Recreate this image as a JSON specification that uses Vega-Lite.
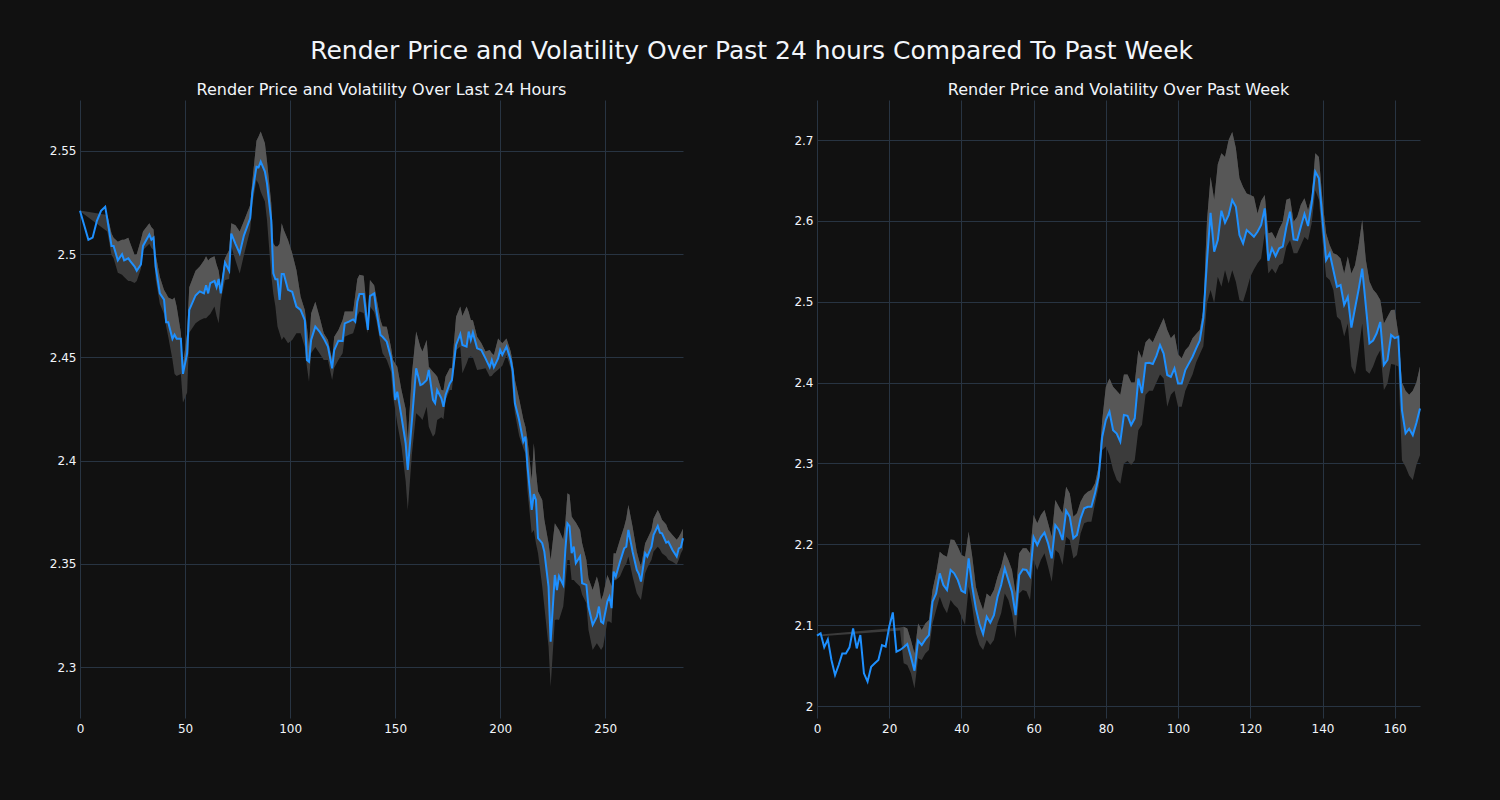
{
"$schema": "https://vega.github.io/schema/vega-lite/v6.json",
"background": "#111111",
"autosize": {"type": "pad"},
"padding": {"left": 49, "top": 39, "right": 80, "bottom": 66},
"title": {"text": "Render Price and Volatility Over Past 24 hours Compared To Past Week", "fontSize": 25, "font": "DejaVu Sans", "fontWeight": "normal", "color": "#f2f5fa", "anchor": "middle", "offset": 18, "dx": 15},
"datasets": {
"day": [
{"x":0,"p":2.521,"u":2.5212,"l":2.5208},
{"x":2,"p":2.514},{"x":4,"p":2.507},{"x":6,"p":2.508},{"x":8,"p":2.516},{"x":10,"p":2.521},{"x":12,"p":2.523},
{"x":13,"p":2.517,"u":2.519,"l":2.511},
{"x":15,"p":2.504,"u":2.510,"l":2.4996},
{"x":16,"p":2.504,"u":2.508,"l":2.498},
{"x":18,"p":2.497,"u":2.506,"l":2.491},
{"x":20,"p":2.500,"u":2.507,"l":2.490},
{"x":21,"p":2.497,"u":2.507,"l":2.489},
{"x":23,"p":2.498,"u":2.508,"l":2.487},
{"x":24,"p":2.4965,"u":2.505,"l":2.487},
{"x":26,"p":2.494,"u":2.4996,"l":2.486},
{"x":27,"p":2.492,"u":2.500,"l":2.487},
{"x":29,"p":2.495,"u":2.507,"l":2.493},
{"x":30,"p":2.504,"u":2.511,"l":2.502},
{"x":33,"p":2.5095,"u":2.515,"l":2.505},
{"x":34,"p":2.507,"u":2.513,"l":2.503},
{"x":35,"p":2.508,"u":2.512,"l":2.502},
{"x":36,"p":2.494,"u":2.500,"l":2.488},
{"x":38,"p":2.481,"u":2.489,"l":2.476},
{"x":40,"p":2.478,"u":2.4827,"l":2.471},
{"x":41,"p":2.467,"u":2.481,"l":2.465},
{"x":42,"p":2.467,"u":2.479,"l":2.460},
{"x":44,"p":2.459,"u":2.478,"l":2.449},
{"x":45,"p":2.461,"u":2.479,"l":2.442},
{"x":46,"p":2.459,"u":2.4746,"l":2.441},
{"x":48,"p":2.459,"u":2.462,"l":2.442},
{"x":49,"p":2.442,"u":2.446,"l":2.428},
{"x":51,"p":2.452,"u":2.462,"l":2.433},
{"x":52,"p":2.473,"u":2.484,"l":2.462},
{"x":55,"p":2.480,"u":2.492,"l":2.4665},
{"x":57,"p":2.482,"u":2.494,"l":2.468},
{"x":59,"p":2.481,"u":2.497,"l":2.469},
{"x":60,"p":2.485,"u":2.499,"l":2.469},
{"x":61,"p":2.481,"u":2.497,"l":2.470},
{"x":62,"p":2.486,"u":2.498,"l":2.471},
{"x":64,"p":2.487,"u":2.499,"l":2.4746},
{"x":65,"p":2.484,"u":2.495,"l":2.470},
{"x":66,"p":2.488,"u":2.492,"l":2.4665},
{"x":67,"p":2.481,"u":2.4843,"l":2.4775},
{"x":69,"p":2.496,"u":2.498,"l":2.4875},
{"x":71,"p":2.492,"u":2.502,"l":2.488},
{"x":72,"p":2.510,"u":2.515,"l":2.5037},
{"x":74,"p":2.505,"u":2.514,"l":2.497},
{"x":76,"p":2.5004,"u":2.511,"l":2.4907},
{"x":78,"p":2.509,"u":2.516,"l":2.4995},
{"x":81,"p":2.5174,"u":2.5238,"l":2.5117},
{"x":82,"p":2.5295,"u":2.535,"l":2.524},
{"x":84,"p":2.5424,"u":2.555,"l":2.536},
{"x":85,"p":2.5421,"u":2.557,"l":2.534},
{"x":86,"p":2.5448,"u":2.5594,"l":2.5303},
{"x":88,"p":2.540,"u":2.5537,"l":2.5255},
{"x":89,"p":2.5343,"u":2.545,"l":2.5166},
{"x":91,"p":2.5166,"u":2.525,"l":2.49},
{"x":92,"p":2.4907,"u":2.5053,"l":2.481},
{"x":93,"p":2.4878,"u":2.5037,"l":2.4746},
{"x":94,"p":2.4878,"u":2.5037,"l":2.465},
{"x":95,"p":2.4778,"u":2.505,"l":2.4617},
{"x":96,"p":2.4904,"u":2.515,"l":2.4584},
{"x":97,"p":2.4904,"u":2.5117,"l":2.46},
{"x":99,"p":2.4827,"u":2.5069,"l":2.4568},
{"x":101,"p":2.4818,"u":2.5004,"l":2.4584},
{"x":103,"p":2.4746,"u":2.4923,"l":2.4617},
{"x":105,"p":2.473,"u":2.4794,"l":2.4617},
{"x":107,"p":2.468,"u":2.473,"l":2.455},
{"x":108,"p":2.4487,"u":2.4649,"l":2.4455},
{"x":109,"p":2.4479,"u":2.4552,"l":2.4382},
{"x":110,"p":2.4584,"u":2.4713,"l":2.452},
{"x":112,"p":2.4649,"u":2.477,"l":2.455},
{"x":114,"p":2.4625,"u":2.4697,"l":2.452},
{"x":116,"p":2.4592,"u":2.4617,"l":2.4487},
{"x":118,"p":2.4552,"u":2.4584,"l":2.4487},
{"x":120,"p":2.4447,"u":2.4487,"l":2.439},
{"x":121,"p":2.4536,"u":2.46,"l":2.445},
{"x":123,"p":2.4581,"u":2.4633,"l":2.4487},
{"x":125,"p":2.458,"u":2.4681,"l":2.452},
{"x":126,"p":2.4665,"u":2.4722,"l":2.46},
{"x":128,"p":2.4673,"u":2.4722,"l":2.461},
{"x":130,"p":2.4684,"u":2.4722,"l":2.4617},
{"x":131,"p":2.4673,"u":2.48,"l":2.465},
{"x":132,"p":2.477,"u":2.488,"l":2.47},
{"x":133,"p":2.4807,"u":2.49,"l":2.4722},
{"x":135,"p":2.4807,"u":2.4895,"l":2.4715},
{"x":137,"p":2.4633,"u":2.4681,"l":2.4617},
{"x":138,"p":2.4797,"u":2.4875,"l":2.4746},
{"x":140,"p":2.481,"u":2.485,"l":2.472},
{"x":141,"p":2.473,"u":2.4794,"l":2.4681},
{"x":143,"p":2.4609,"u":2.4681,"l":2.4568},
{"x":144,"p":2.46,"u":2.465,"l":2.452},
{"x":146,"p":2.4576,"u":2.4649,"l":2.4487},
{"x":148,"p":2.450,"u":2.455,"l":2.443},
{"x":149,"p":2.4423,"u":2.4487,"l":2.431},
{"x":150,"p":2.4294,"u":2.447,"l":2.425},
{"x":151,"p":2.4334,"u":2.4455,"l":2.418},
{"x":153,"p":2.4213,"u":2.4342,"l":2.4068},
{"x":155,"p":2.4084,"u":2.425,"l":2.39},
{"x":156,"p":2.3955,"u":2.41,"l":2.376},
{"x":158,"p":2.4197,"u":2.4423,"l":2.4035},
{"x":160,"p":2.4447,"u":2.4625,"l":2.4229},
{"x":162,"p":2.4366,"u":2.455,"l":2.421},
{"x":163,"p":2.437,"u":2.4528,"l":2.4197},
{"x":165,"p":2.439,"u":2.4584,"l":2.4261},
{"x":166,"p":2.4439,"u":2.4455,"l":2.4164},
{"x":168,"p":2.4294,"u":2.4431,"l":2.4116},
{"x":169,"p":2.4278,"u":2.442,"l":2.413},
{"x":170,"p":2.4342,"u":2.4407,"l":2.4197},
{"x":172,"p":2.4302,"u":2.4342,"l":2.421},
{"x":173,"p":2.4261,"u":2.434,"l":2.42},
{"x":174,"p":2.4318,"u":2.4407,"l":2.4294},
{"x":176,"p":2.4374,"u":2.4447,"l":2.4342},
{"x":177,"p":2.439,"u":2.4447,"l":2.4342},
{"x":179,"p":2.456,"u":2.4697,"l":2.4536},
{"x":181,"p":2.4613,"u":2.4746,"l":2.4552},
{"x":182,"p":2.456,"u":2.47,"l":2.4423},
{"x":184,"p":2.4552,"u":2.4746,"l":2.4471},
{"x":185,"p":2.4625,"u":2.472,"l":2.45},
{"x":186,"p":2.4584,"u":2.4681,"l":2.4504},
{"x":187,"p":2.462,"u":2.468,"l":2.45},
{"x":189,"p":2.4544,"u":2.46,"l":2.4439},
{"x":191,"p":2.4536,"u":2.457,"l":2.4443},
{"x":193,"p":2.4495,"u":2.4528,"l":2.4447},
{"x":195,"p":2.4452,"u":2.4536,"l":2.4407},
{"x":196,"p":2.4487,"u":2.452,"l":2.441},
{"x":197,"p":2.4452,"u":2.4512,"l":2.4423},
{"x":199,"p":2.4495,"u":2.4592,"l":2.444},
{"x":200,"p":2.4536,"u":2.458,"l":2.445},
{"x":201,"p":2.4512,"u":2.4568,"l":2.446},
{"x":203,"p":2.4552,"u":2.4592,"l":2.4512},
{"x":205,"p":2.4487,"u":2.4528,"l":2.4447},
{"x":206,"p":2.4431,"u":2.447,"l":2.433},
{"x":207,"p":2.4278,"u":2.439,"l":2.4229},
{"x":209,"p":2.4197,"u":2.43,"l":2.412},
{"x":211,"p":2.4092,"u":2.42,"l":2.406},
{"x":212,"p":2.4116,"u":2.4164,"l":2.4035},
{"x":213,"p":2.3971,"u":2.41,"l":2.385},
{"x":215,"p":2.3761,"u":2.3906,"l":2.3648},
{"x":216,"p":2.3838,"u":2.4084,"l":2.3664},
{"x":217,"p":2.3809,"u":2.395,"l":2.36},
{"x":218,"p":2.3624,"u":2.385,"l":2.3551},
{"x":220,"p":2.36,"u":2.3809,"l":2.339},
{"x":221,"p":2.3559,"u":2.3713,"l":2.3293},
{"x":223,"p":2.339,"u":2.36,"l":2.31},
{"x":224,"p":2.3123,"u":2.3519,"l":2.2905},
{"x":226,"p":2.3446,"u":2.3697,"l":2.3228},
{"x":227,"p":2.3373,"u":2.368,"l":2.323},
{"x":228,"p":2.344,"u":2.3664,"l":2.3228},
{"x":230,"p":2.3398,"u":2.3616,"l":2.3293},
{"x":231,"p":2.3567,"u":2.37,"l":2.34},
{"x":232,"p":2.3696,"u":2.3842,"l":2.3519},
{"x":233,"p":2.3683,"u":2.3834,"l":2.3519},
{"x":234,"p":2.3551,"u":2.3729,"l":2.3422},
{"x":235,"p":2.3583,"u":2.3713,"l":2.3422},
{"x":236,"p":2.3503,"u":2.37,"l":2.341},
{"x":238,"p":2.3535,"u":2.3664,"l":2.339},
{"x":239,"p":2.3406,"u":2.36,"l":2.335},
{"x":241,"p":2.3398,"u":2.3519,"l":2.3309},
{"x":242,"p":2.3293,"u":2.343,"l":2.318},
{"x":244,"p":2.3204,"u":2.3373,"l":2.3083},
{"x":246,"p":2.3244,"u":2.3438,"l":2.3115},
{"x":247,"p":2.3293,"u":2.34,"l":2.31},
{"x":248,"p":2.322,"u":2.3325,"l":2.3083},
{"x":249,"p":2.3212,"u":2.335,"l":2.31},
{"x":251,"p":2.3317,"u":2.3446,"l":2.322},
{"x":252,"p":2.3341,"u":2.342,"l":2.322},
{"x":253,"p":2.3285,"u":2.339,"l":2.3212},
{"x":254,"p":2.3462,"u":2.3551,"l":2.3422},
{"x":255,"p":2.3438,"u":2.355,"l":2.342},
{"x":257,"p":2.351,"u":2.3616,"l":2.3438},
{"x":259,"p":2.3575,"u":2.368,"l":2.3486},
{"x":260,"p":2.3583,"u":2.372,"l":2.35},
{"x":261,"p":2.3664,"u":2.3785,"l":2.3535},
{"x":263,"p":2.3559,"u":2.368,"l":2.3438},
{"x":265,"p":2.347,"u":2.3559,"l":2.3357},
{"x":266,"p":2.3451,"u":2.352,"l":2.334},
{"x":267,"p":2.3414,"u":2.3486,"l":2.3325},
{"x":269,"p":2.3551,"u":2.36,"l":2.3454},
{"x":270,"p":2.3535,"u":2.362,"l":2.348},
{"x":272,"p":2.3583,"u":2.3664,"l":2.352},
{"x":273,"p":2.364,"u":2.372,"l":2.356},
{"x":275,"p":2.3683,"u":2.3761,"l":2.3583},
{"x":276,"p":2.3651,"u":2.374,"l":2.357},
{"x":277,"p":2.3648,"u":2.3713,"l":2.3551},
{"x":279,"p":2.3603,"u":2.369,"l":2.3535},
{"x":280,"p":2.3608,"u":2.3664,"l":2.352},
{"x":282,"p":2.3567,"u":2.364,"l":2.351},
{"x":284,"p":2.3535,"u":2.3616,"l":2.3495},
{"x":285,"p":2.3575,"u":2.363,"l":2.352},
{"x":286,"p":2.358,"u":2.3648,"l":2.3551},
{"x":287,"p":2.3624,"u":2.367,"l":2.357}
],
"week": [
{"x":0,"p":2.087},
{"x":1,"p":2.0899,"u":2.0885,"l":2.0862},
{"x":2,"p":2.0726},{"x":3,"p":2.0824},{"x":4,"p":2.0569},{"x":5,"p":2.0383},{"x":6,"p":2.0507},{"x":7,"p":2.0651},{"x":8,"p":2.0651},{"x":9,"p":2.0726},{"x":10,"p":2.096},{"x":11,"p":2.0713},{"x":12,"p":2.0878},{"x":13,"p":2.0404},{"x":14,"p":2.0301},{"x":15,"p":2.0486},{"x":16,"p":2.0528},{"x":17,"p":2.0569},{"x":18,"p":2.0754},{"x":19,"p":2.0734},{"x":20,"p":2.0981},{"x":21,"p":2.1158},{"x":22,"p":2.0672},
{"x":23,"p":2.0693,"u":2.0972,"l":2.0935},
{"x":24,"p":2.0726,"u":2.0981,"l":2.0528},
{"x":25,"p":2.0767,"u":2.096,"l":2.0507},
{"x":26,"p":2.061,"u":2.0816,"l":2.0404},
{"x":27,"p":2.0437,"u":2.0651,"l":2.0218},
{"x":28,"p":2.0808,"u":2.1022,"l":2.059},
{"x":29,"p":2.0754,"u":2.094,"l":2.0569},
{"x":30,"p":2.0824,"u":2.1022,"l":2.0651},
{"x":31,"p":2.0878,"u":2.1064,"l":2.0693},
{"x":32,"p":2.129,"u":2.1435,"l":2.1022},
{"x":33,"p":2.1393,"u":2.1641,"l":2.1187},
{"x":34,"p":2.1641,"u":2.1909,"l":2.1352},
{"x":35,"p":2.1496,"u":2.1867,"l":2.1228},
{"x":36,"p":2.1435,"u":2.1847,"l":2.1146},
{"x":37,"p":2.1682,"u":2.2061,"l":2.1311},
{"x":38,"p":2.1641,"u":2.2053,"l":2.1249},
{"x":39,"p":2.1558,"u":2.197,"l":2.1208},
{"x":40,"p":2.1426,"u":2.1867,"l":2.1105},
{"x":41,"p":2.1402,"u":2.1847,"l":2.1002},
{"x":42,"p":2.1826,"u":2.2156,"l":2.1476},
{"x":43,"p":2.1476,"u":2.1847,"l":2.1228},
{"x":44,"p":2.1208,"u":2.1476,"l":2.0899},
{"x":45,"p":2.1014,"u":2.1311,"l":2.0754},
{"x":46,"p":2.089,"u":2.1187,"l":2.0693},
{"x":47,"p":2.1105,"u":2.1393,"l":2.0816},
{"x":48,"p":2.1031,"u":2.1352,"l":2.0754},
{"x":49,"p":2.1125,"u":2.1435,"l":2.0816},
{"x":50,"p":2.1352,"u":2.16,"l":2.1022},
{"x":51,"p":2.1496,"u":2.1723,"l":2.1146},
{"x":52,"p":2.1703,"u":2.1909,"l":2.1393},
{"x":53,"p":2.1558,"u":2.1806,"l":2.1311},
{"x":54,"p":2.1414,"u":2.1682,"l":2.1146},
{"x":55,"p":2.1125,"u":2.1393,"l":2.0837},
{"x":56,"p":2.162,"u":2.1888,"l":2.1393},
{"x":57,"p":2.169,"u":2.195,"l":2.1435},
{"x":58,"p":2.1682,"u":2.195,"l":2.142},
{"x":59,"p":2.1608,"u":2.1888,"l":2.1311},
{"x":60,"p":2.2086,"u":2.2362,"l":2.1806},
{"x":61,"p":2.1991,"u":2.2259,"l":2.1682},
{"x":62,"p":2.2086,"u":2.2362,"l":2.1806},
{"x":63,"p":2.2144,"u":2.2424,"l":2.1888},
{"x":64,"p":2.2012,"u":2.2259,"l":2.1723},
{"x":65,"p":2.1826,"u":2.2094,"l":2.1538},
{"x":66,"p":2.2238,"u":2.2548,"l":2.1929},
{"x":67,"p":2.2177,"u":2.2465,"l":2.1888},
{"x":68,"p":2.2053,"u":2.2383,"l":2.1744},
{"x":69,"p":2.2416,"u":2.2713,"l":2.2094},
{"x":70,"p":2.2342,"u":2.263,"l":2.2053},
{"x":71,"p":2.2074,"u":2.2342,"l":2.1826},
{"x":72,"p":2.2115,"u":2.2383,"l":2.1867},
{"x":73,"p":2.2321,"u":2.2527,"l":2.2135},
{"x":74,"p":2.2445,"u":2.2609,"l":2.2259},
{"x":75,"p":2.2465,"u":2.2651,"l":2.228},
{"x":76,"p":2.2465,"u":2.2671,"l":2.228},
{"x":77,"p":2.263,"u":2.2754,"l":2.2506},
{"x":78,"p":2.2836,"u":2.296,"l":2.2713},
{"x":79,"p":2.3331,"u":2.3537,"l":2.3166},
{"x":80,"p":2.3537,"u":2.395,"l":2.321},
{"x":81,"p":2.364,"u":2.405,"l":2.31},
{"x":82,"p":2.341,"u":2.395,"l":2.292},
{"x":83,"p":2.337,"u":2.39,"l":2.28},
{"x":84,"p":2.327,"u":2.385,"l":2.275},
{"x":85,"p":2.36,"u":2.41,"l":2.30},
{"x":86,"p":2.359,"u":2.41,"l":2.303},
{"x":87,"p":2.3475,"u":2.40,"l":2.298},
{"x":88,"p":2.3558,"u":2.40,"l":2.304},
{"x":89,"p":2.405,"u":2.44,"l":2.341},
{"x":90,"p":2.387,"u":2.43,"l":2.348},
{"x":91,"p":2.424,"u":2.45,"l":2.385},
{"x":92,"p":2.4246,"u":2.455,"l":2.39},
{"x":93,"p":2.423,"u":2.45,"l":2.39},
{"x":94,"p":2.433,"u":2.46,"l":2.40},
{"x":95,"p":2.4465,"u":2.47,"l":2.41},
{"x":96,"p":2.436,"u":2.48,"l":2.405},
{"x":97,"p":2.4094,"u":2.465,"l":2.37},
{"x":98,"p":2.407,"u":2.455,"l":2.385},
{"x":99,"p":2.4176,"u":2.46,"l":2.39},
{"x":100,"p":2.399,"u":2.435,"l":2.37},
{"x":101,"p":2.399,"u":2.43,"l":2.37},
{"x":102,"p":2.4155,"u":2.44,"l":2.39},
{"x":103,"p":2.4238,"u":2.445,"l":2.40},
{"x":104,"p":2.432,"u":2.455,"l":2.41},
{"x":105,"p":2.4423,"u":2.46,"l":2.425},
{"x":106,"p":2.452,"u":2.465,"l":2.435},
{"x":107,"p":2.48,"u":2.49,"l":2.445},
{"x":108,"p":2.55,"u":2.60,"l":2.498},
{"x":109,"p":2.61,"u":2.6546,"l":2.5145},
{"x":110,"p":2.5619,"u":2.626,"l":2.498},
{"x":111,"p":2.5763,"u":2.67,"l":2.531},
{"x":112,"p":2.6126,"u":2.6835,"l":2.5186},
{"x":113,"p":2.5977,"u":2.679,"l":2.539},
{"x":114,"p":2.6072,"u":2.70,"l":2.5227},
{"x":115,"p":2.6258,"u":2.71,"l":2.539},
{"x":116,"p":2.6175,"u":2.69,"l":2.5248},
{"x":117,"p":2.5825,"u":2.6526,"l":2.502},
{"x":118,"p":2.5722,"u":2.642,"l":2.50},
{"x":119,"p":2.5887,"u":2.634,"l":2.5145},
{"x":120,"p":2.5846,"u":2.632,"l":2.531},
{"x":121,"p":2.5804,"u":2.63,"l":2.54},
{"x":122,"p":2.5866,"u":2.609,"l":2.5475},
{"x":123,"p":2.5949,"u":2.625,"l":2.5536},
{"x":124,"p":2.6155,"u":2.632,"l":2.5846},
{"x":125,"p":2.5508,"u":2.5846,"l":2.535},
{"x":126,"p":2.566,"u":2.586,"l":2.541},
{"x":127,"p":2.5565,"u":2.578,"l":2.535},
{"x":128,"p":2.566,"u":2.59,"l":2.545},
{"x":129,"p":2.5681,"u":2.599,"l":2.5475},
{"x":130,"p":2.5928,"u":2.626,"l":2.568},
{"x":131,"p":2.6114,"u":2.628,"l":2.576},
{"x":132,"p":2.5771,"u":2.599,"l":2.56},
{"x":133,"p":2.5763,"u":2.605,"l":2.56},
{"x":134,"p":2.5928,"u":2.62,"l":2.57},
{"x":135,"p":2.6085,"u":2.628,"l":2.58},
{"x":136,"p":2.5936,"u":2.613,"l":2.576},
{"x":137,"p":2.6217,"u":2.63,"l":2.597},
{"x":138,"p":2.6608,"u":2.6835,"l":2.638},
{"x":139,"p":2.6526,"u":2.679,"l":2.626},
{"x":140,"p":2.601,"u":2.625,"l":2.575},
{"x":141,"p":2.5516,"u":2.5846,"l":2.531},
{"x":142,"p":2.5598,"u":2.57,"l":2.527},
{"x":143,"p":2.5392,"u":2.56,"l":2.5145},
{"x":144,"p":2.5186,"u":2.558,"l":2.4815},
{"x":145,"p":2.5207,"u":2.5536,"l":2.477},
{"x":146,"p":2.496,"u":2.535,"l":2.457},
{"x":147,"p":2.506,"u":2.556,"l":2.473},
{"x":148,"p":2.468,"u":2.535,"l":2.42},
{"x":149,"p":2.492,"u":2.545,"l":2.41},
{"x":150,"p":2.515,"u":2.57,"l":2.44},
{"x":151,"p":2.541,"u":2.601,"l":2.473},
{"x":152,"p":2.495,"u":2.5516,"l":2.415},
{"x":153,"p":2.4485,"u":2.525,"l":2.411},
{"x":154,"p":2.452,"u":2.515,"l":2.42},
{"x":155,"p":2.461,"u":2.51,"l":2.432},
{"x":156,"p":2.475,"u":2.502,"l":2.44},
{"x":157,"p":2.4217,"u":2.473,"l":2.391},
{"x":158,"p":2.428,"u":2.4815,"l":2.399},
{"x":159,"p":2.4588,"u":2.4897,"l":2.423},
{"x":160,"p":2.455,"u":2.49,"l":2.422},
{"x":161,"p":2.4567,"u":2.46,"l":2.42},
{"x":162,"p":2.366,"u":2.40,"l":2.304},
{"x":163,"p":2.3372,"u":2.39,"l":2.296},
{"x":164,"p":2.343,"u":2.385,"l":2.285},
{"x":165,"p":2.335,"u":2.39,"l":2.2795},
{"x":166,"p":2.35,"u":2.40,"l":2.298},
{"x":167,"p":2.368,"u":2.42,"l":2.31}
]
},
"spacing": 134,
"bounds": "flush",
"hconcat": [
{
"title": {"text": "Render Price and Volatility Over Last 24 Hours", "fontSize": 16, "offset": 2},
"width": 603, "height": 618,
"data": {"name": "day"},
"encoding": {
"x": {"field": "x", "type": "quantitative", "scale": {"domain": [0, 287], "nice": false, "zero": false}, "axis": {"values": [0, 50, 100, 150, 200, 250], "labelPadding": 5, "labelFlush": false}}
},
"layer": [
{"transform": [{"filter": "isValid(datum.u)"}], "mark": {"type": "area", "color": "#3b3b3b"},
 "encoding": {"y": {"field": "u", "type": "quantitative", "scale": {"domain": [2.2753, 2.5747], "nice": false, "zero": false}, "axis": {"values": [2.3, 2.35, 2.4, 2.45, 2.5, 2.55], "format": "~f", "labelPadding": 4}}, "y2": {"field": "l"}}},
{"transform": [{"filter": "isValid(datum.u) && datum.x >= 13"}], "mark": {"type": "area", "color": "#575757"},
 "encoding": {"y": {"field": "u", "type": "quantitative"}, "y2": {"field": "p"}}},
{"mark": {"type": "line", "color": "#1e90ff", "strokeWidth": 2},
 "encoding": {"y": {"field": "p", "type": "quantitative"}}}
]
},
{
"title": {"text": "Render Price and Volatility Over Past Week", "fontSize": 16, "offset": 2},
"width": 603, "height": 618,
"data": {"name": "week"},
"encoding": {
"x": {"field": "x", "type": "quantitative", "scale": {"domain": [0, 167], "nice": false, "zero": false}, "axis": {"values": [0, 20, 40, 60, 80, 100, 120, 140, 160], "labelPadding": 5, "labelFlush": false}}
},
"layer": [
{"transform": [{"filter": "isValid(datum.u)"}], "mark": {"type": "area", "color": "#3b3b3b"},
 "encoding": {"y": {"field": "u", "type": "quantitative", "scale": {"domain": [1.9852, 2.7495], "nice": false, "zero": false}, "axis": {"values": [2, 2.1, 2.2, 2.3, 2.4, 2.5, 2.6, 2.7], "format": "~f", "labelPadding": 4}}, "y2": {"field": "l"}}},
{"transform": [{"filter": "isValid(datum.u) && datum.x >= 24"}], "mark": {"type": "area", "color": "#575757"},
 "encoding": {"y": {"field": "u", "type": "quantitative"}, "y2": {"field": "p"}}},
{"mark": {"type": "line", "color": "#1e90ff", "strokeWidth": 2},
 "encoding": {"y": {"field": "p", "type": "quantitative"}}}
]
}
],
"config": {
"view": {"stroke": null},
"font": "DejaVu Sans",
"axis": {"grid": true, "gridColor": "#283442", "gridWidth": 1, "domain": false, "ticks": false, "labelColor": "#f2f5fa", "labelFont": "DejaVu Sans", "labelFontSize": 12, "title": null},
"title": {"color": "#f2f5fa", "font": "DejaVu Sans", "fontWeight": "normal"}
}
}
